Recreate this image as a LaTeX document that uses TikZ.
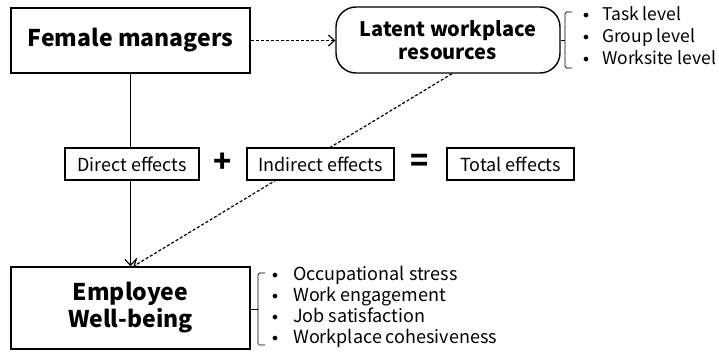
\documentclass[tikz,border=0pt]{standalone}
\usepackage{fontspec}
\setmainfont{Noto Sans CJK JP}
\newfontfamily\bulfont{DejaVu Sans}
\usetikzlibrary{arrows.meta}
\begin{document}
\begin{tikzpicture}[x=1pt,y=-1pt,
  box/.style={draw, line width=1.4pt, fill=white, inner sep=0pt, align=center},
  bigbox/.style={box, font=\fontsize{23}{27}\selectfont\bfseries},
  effbox/.style={box, line width=1.3pt, minimum height=32pt, font=\fontsize{18}{21}\selectfont},
  item/.style={anchor=west, inner sep=0pt, text height=13pt, text depth=4pt, font=\fontsize{18}{21}\selectfont},
  bul/.style={inner sep=0pt, text height=9pt, text depth=0pt, font=\bulfont\fontsize{16}{18}\selectfont},
  conn/.style={line width=1.3pt},
  dashconn/.style={line width=1.2pt, dash pattern=on 3pt off 2pt},
  tip/.style={-{Straight Barb[length=6pt,width=11pt,line width=1.2pt]}},
  brace/.style={line width=0.7pt, rounded corners=1.5pt}
]
\useasboundingbox (0,0) rectangle (719,351);

\node[bigbox, minimum width=239pt, minimum height=65pt] (fm) at (130.5,40.5) {Female managers};
\node[box, rounded corners=20pt, minimum width=224pt, minimum height=66pt, font=\fontsize{20}{23}\selectfont\bfseries] (lat) at (448,40) {Latent workplace\\resources};
\node[bigbox, minimum width=239pt, minimum height=82pt] (emp) at (130.5,308) {Employee\\Well-being};

\draw[conn, tip] (fm.south) -- (emp.north);
\draw[dashconn, tip] (fm.east) -- (fm.east -| lat.west);
\draw[dashconn, tip] ([xshift=4pt]lat.south) -- ([xshift=3pt]emp.north);

\node[effbox, minimum width=134pt] (de) at (132,164) {Direct effects};
\node[effbox, minimum width=147pt] (ie) at (320.5,164) {Indirect effects};
\node[effbox, minimum width=127pt] (te) at (510.5,164) {Total effects};
\node[inner sep=0pt, font=\fontsize{30}{30}\selectfont\bfseries] (plus) at (223,163) {+};
\node[inner sep=0pt, font=\fontsize{30}{30}\selectfont\bfseries] (eq) at (420,163) {=};

% brace and items for latent resources
\draw[brace] (572,12) -- (565,12) -- (565,68) -- (572,68);
\draw[brace] (565,40) -- (lat.east);
\node[bul] (b1) at (586,17) {•};
\node[bul] (b2) at (586,39) {•};
\node[bul] (b3) at (586,61) {•};
\node[item, font=\fontsize{17.5}{21}\selectfont] (i1) at (602,16) {Task level};
\node[item, font=\fontsize{17.5}{21}\selectfont] (i2) at (602,38) {Group level};
\node[item, font=\fontsize{17.5}{21}\selectfont] (i3) at (602,60) {Worksite level};

% brace and items for well-being
\draw[brace] (265,273) -- (258,273) -- (258,345) -- (265,345);
\draw[brace] (258,309) -- (251,309);
\node[bul] (c1) at (275,277) {•};
\node[bul] (c2) at (275,298) {•};
\node[bul] (c3) at (275,319) {•};
\node[bul] (c4) at (275,340) {•};
\node[item] (j1) at (293,276) {Occupational stress};
\node[item] (j2) at (293,297) {Work engagement};
\node[item] (j3) at (293,318) {Job satisfaction};
\node[item] (j4) at (293,339) {Workplace cohesiveness};
\end{tikzpicture}
\end{document}
